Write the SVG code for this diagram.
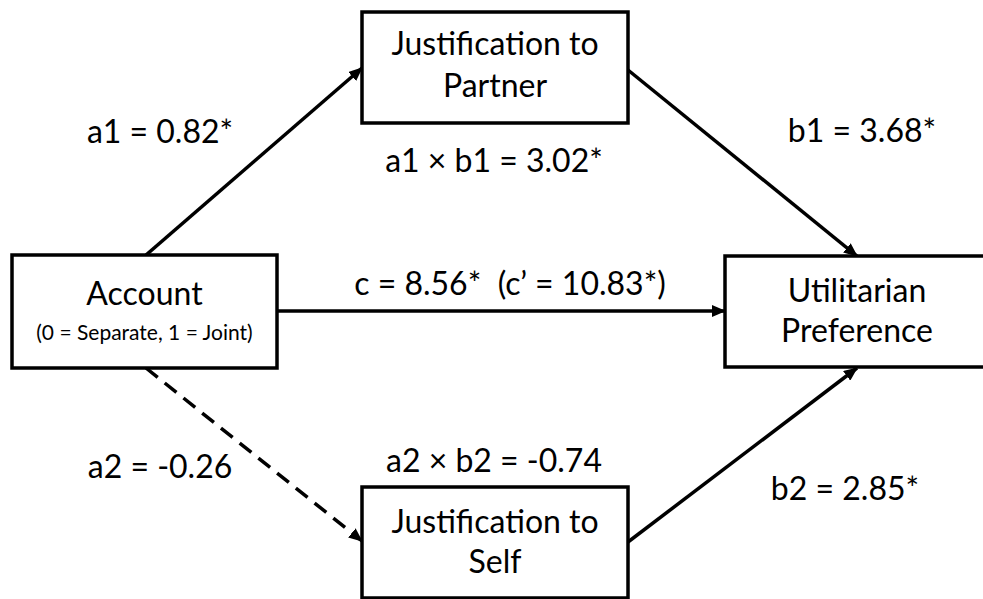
<svg xmlns="http://www.w3.org/2000/svg" width="983" height="599" viewBox="0 0 983 599">
<defs>
<marker id="arr" markerUnits="userSpaceOnUse" markerWidth="14" markerHeight="12" refX="13" refY="6" orient="auto">
<path d="M0,0 L14,6 L0,12 z" fill="#000"/>
</marker>
<style>
.box{fill:#fff;stroke:#000;stroke-width:3.5}
.t{font-family:Lato,"Open Sans",sans-serif;font-size:32px;fill:#000;text-anchor:middle}
.s{font-family:Lato,"Open Sans",sans-serif;font-size:21px;fill:#000;text-anchor:middle}
.ln{stroke:#000;stroke-width:3.5;fill:none;marker-end:url(#arr)}
.dash{stroke-dasharray:15 9}
</style>
</defs>
<rect width="983" height="599" fill="#fff"/>
<g id="connectors">
<line class="ln" x1="146" y1="255" x2="362" y2="68"/>
<line class="ln" x1="628" y1="70" x2="857" y2="256"/>
<line class="ln" x1="277" y1="311" x2="725" y2="311"/>
<line class="ln dash" x1="146" y1="368" x2="362" y2="541"/>
<line class="ln" x1="628" y1="542" x2="857" y2="368"/>
</g>
<g id="account">
<rect class="box" x="12" y="255" width="265" height="113"/>
<text class="t" x="144.5" y="305">Account</text>
<text class="s" x="144.5" y="340">(0 = Separate, 1 = Joint)</text>
</g>
<g id="partner">
<rect class="box" x="362" y="12" width="266" height="111"/>
<text class="t" x="495" y="55">Justification to</text>
<text class="t" x="495" y="97">Partner</text>
</g>
<g id="self">
<rect class="box" x="362" y="487" width="266" height="111"/>
<text class="t" x="495" y="533">Justification to</text>
<text class="t" x="495" y="573">Self</text>
</g>
<g id="utilitarian">
<rect class="box" x="725" y="256" width="265" height="111"/>
<text class="t" x="857" y="302">Utilitarian</text>
<text class="t" x="857" y="342">Preference</text>
</g>
<g id="labels">
<text class="t" x="160" y="143">a1 = 0.82*</text>
<text class="t" x="494" y="172">a1 × b1 = 3.02*</text>
<text class="t" x="862" y="142">b1 = 3.68*</text>
<text class="t" x="510" y="295" xml:space="preserve">c = 8.56*  (c’ = 10.83*)</text>
<text class="t" x="494" y="472">a2 × b2 = -0.74</text>
<text class="t" x="160" y="478">a2 = -0.26</text>
<text class="t" x="845" y="500">b2 = 2.85*</text>
</g>
</svg>
